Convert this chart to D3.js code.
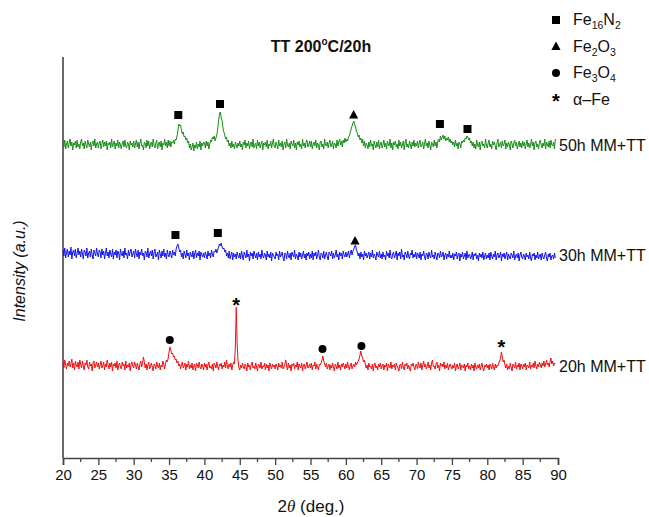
<!DOCTYPE html>
<html>
<head>
<meta charset="utf-8">
<script src="https://cdn.jsdelivr.net/npm/d3@7/dist/d3.min.js"></script>
<style>
  html, body { margin: 0; padding: 0; background: #fff; }
  svg { display: block; font-family: "Liberation Sans", Arial, sans-serif; }
</style>
</head>
<body>
<svg id="chart" width="649" height="517"></svg>
<script>
// 2θ grid: from 20° in 0.125° steps
const thetaStart = 20, thetaStep = 0.125;

// Intensity above each pattern's own baseline (a.u.), one row per 5°
const mm50 = [
  3,-2,5,-4,1,4,-3,2,6,-1,3,-5,2,0,4,-3,5,-2,1,-4,3,6,-1,2,-4,4,0,-3,5,1,-2,3,-5,2,4,-1,6,-3,1,3,
  -3,2,4,-4,1,5,-2,3,-1,4,-5,2,0,3,-3,6,-2,1,4,-4,2,-1,5,-3,3,0,-4,2,4,-2,5,-1,-3,3,1,-5,4,0,2,-2,
  4,-3,1,5,-2,3,-4,2,6,-1,0,-5,3,2,-3,5,-1,4,-4,1,3,-2,6,0,-3,2,5,-4,1,3,-2,4,-5,2,0,6,-1,3,-3,5,
  -1,4,-2,3,2,5,1,6,5,9,14,21,19,20,15,11,13,8,9,5,7,2,4,-3,1,-5,-2,2,-6,0,-3,3,-4,1,-2,4,-5,2,-1,3,
  2,-3,4,-1,3,-4,1,5,3,8,6,9,4,7,10,16,24,31,33,27,24,17,13,10,6,8,3,5,-1,2,-3,4,-2,1,-4,3,0,-3,2,-1,
  4,-2,1,-5,3,0,5,-3,2,-1,4,-4,1,3,-2,6,-3,0,2,-4,5,-1,3,-3,1,4,-5,2,0,3,-2,5,-4,1,-1,4,-3,2,6,-2,
  -3,3,0,-4,5,-1,2,-2,4,-5,1,3,-3,6,0,-2,2,-4,4,1,-1,5,-3,2,-5,3,0,4,-2,1,-4,6,-1,2,-3,3,5,-2,0,4,
  -2,4,-4,1,3,-1,5,-3,2,0,-5,3,4,-2,1,-4,6,0,-1,3,-3,2,5,-2,0,4,-4,2,1,-3,5,-1,3,6,0,4,-2,5,2,7,
  3,6,4,8,9,13,16,19,22,24,20,18,14,12,8,10,5,7,2,6,-1,4,-3,2,0,-4,3,-2,5,-1,1,-5,4,0,-3,3,-2,5,-4,1,
  3,-3,0,5,-2,2,-4,4,1,-1,6,-3,2,-5,3,0,4,-2,1,-4,5,-1,3,-3,0,4,-5,2,6,-2,1,-3,4,0,-4,3,-1,5,-2,2,
  -1,4,-3,2,5,-2,0,3,-4,1,6,-1,2,-3,4,0,-5,3,1,-2,5,-1,3,-3,4,6,3,9,5,8,10,6,9,4,7,5,8,3,6,2,
  4,0,3,-2,5,-1,2,-4,3,1,-3,4,2,5,3,7,6,9,8,5,7,2,4,-1,3,-3,1,-4,5,0,-2,3,-5,2,4,-1,1,-3,6,0,
  -3,2,5,-2,1,-4,4,0,3,-1,-5,2,6,-2,0,3,-3,4,-1,1,5,-4,2,-2,3,0,-5,4,1,-3,2,5,-1,3,-4,0,4,-2,2,-3,
  4,-1,3,-4,1,5,-2,2,-3,0,6,-1,3,-5,2,4,-2,1,-4,3,5,0,-3,2,-1,6,-4,3,1,-2,4,-3,5,0,-1,3,-4,6
];
const mm30 = [
  5,-1,7,-3,3,6,-2,4,0,8,-4,3,5,-1,6,-3,2,7,0,4,-2,6,1,-4,5,3,-1,7,-3,2,4,-2,6,0,-4,5,2,-1,7,1,
  -2,5,3,-3,6,0,4,-4,2,7,-1,3,-3,5,1,-2,6,-4,3,0,5,-3,4,2,-5,6,1,-1,4,-3,7,0,2,-4,5,-1,3,6,-2,1,
  4,-3,6,1,-2,5,-4,3,0,6,-1,2,-5,4,3,-2,7,-3,1,4,-1,5,-4,2,6,-2,0,3,-5,5,1,-3,4,-1,6,-2,2,-4,5,0,
  -2,4,1,-3,5,0,3,-1,6,9,11,7,3,5,-2,2,-4,4,1,-3,5,-1,2,-5,3,0,-2,4,-4,1,5,-3,2,-1,4,-5,3,0,-2,2,
  -3,3,0,-4,4,-1,2,-3,5,1,-2,4,3,6,2,5,8,11,9,12,8,6,7,3,5,-1,2,-3,4,-4,0,3,-5,2,-2,1,-4,3,-1,-3,
  2,-4,4,-1,-5,3,0,-3,5,-2,1,-6,3,-1,2,-4,4,0,-3,2,-5,3,-2,1,-4,5,-1,-3,2,0,-5,4,-2,1,-3,3,-6,2,0,-2,
  -4,3,-1,1,-5,4,-2,0,3,-3,-6,2,1,-4,4,-1,-3,2,-5,3,0,-2,5,-4,1,-1,-5,3,-2,2,-4,0,4,-3,1,-5,2,-1,3,-4,
  1,-3,4,-5,2,-1,3,-4,0,5,-2,-5,2,1,-3,4,-4,0,3,-2,-5,3,1,-1,4,-4,2,-3,0,5,-2,1,-5,3,-1,2,-4,4,0,-2,
  3,-2,1,4,-3,2,5,0,4,6,9,10,5,3,-1,2,-4,3,-2,1,-5,4,-1,2,-3,0,3,-4,2,-2,5,-3,1,-1,-5,3,0,-2,4,-3,
  1,-4,3,-2,0,-5,4,-1,2,-3,5,-2,-4,1,3,-3,0,4,-5,2,-1,3,-4,6,-2,0,-5,3,1,-3,4,-1,-4,2,0,5,-3,1,-2,3,
  -4,2,0,-3,3,-5,1,-1,4,-2,-5,2,1,-4,3,-1,-3,5,-2,0,-4,3,-1,-5,2,1,-3,4,-2,-1,3,-5,0,2,-4,1,-2,4,-3,0,
  -3,2,-5,1,-1,3,-4,0,2,-6,1,-2,3,-4,-1,2,-5,4,-3,0,1,-4,-2,3,-5,1,-1,2,-4,0,-6,2,-2,1,-3,3,-5,-1,2,-4,
  0,-3,2,-5,3,-1,-4,1,-2,4,-5,0,2,-3,-1,3,-6,1,-2,2,-4,0,3,-5,1,-2,-4,2,0,-3,4,-5,-1,1,-3,2,-6,0,3,-2,
  -4,1,-1,-5,2,-2,0,-4,3,-3,-6,1,-1,2,-5,0,-3,3,-4,-1,1,-5,2,-2,-4,0,3,-3,-6,1,-2,2,-5,-1,0,-4,2,-3
];
const mm20 = [
  4,-2,6,1,-3,3,0,5,-1,2,7,-2,3,-4,5,1,-1,4,-3,6,2,-2,5,0,-4,3,1,6,-1,-3,4,0,2,-5,3,5,-2,1,4,-1,
  3,-3,1,5,-2,0,4,-4,2,-1,6,1,-3,3,-1,4,-5,2,0,3,-2,5,-4,1,3,-1,-3,4,0,2,-4,5,-2,1,-1,3,-5,2,4,0,
  -2,4,1,-3,3,0,-4,2,5,-1,3,9,4,-2,2,-4,1,4,-3,0,3,-1,-5,2,1,-3,4,0,-2,3,-4,1,-1,5,2,-3,3,6,4,8,
  14,19,16,12,13,9,10,6,7,3,5,0,2,-3,1,4,-2,0,3,-4,2,-1,5,-3,1,-2,3,-4,0,2,-5,3,1,-2,4,-1,-3,2,0,-4,
  3,-1,2,-4,1,4,-2,0,-3,2,-5,3,1,-2,4,-1,-4,2,0,3,-3,1,-1,4,-2,6,0,-3,2,-1,3,-4,1,4,2,20,59,22,6,-2,
  -4,1,-2,3,-1,-3,2,0,-5,3,-1,1,-4,2,4,-2,0,-3,3,-1,-5,2,1,-2,4,-3,0,-1,3,-4,2,-2,1,-5,3,0,-3,2,-1,1,
  -3,2,0,-4,3,-1,1,-2,4,-3,-1,2,6,0,-4,3,-2,1,-5,2,0,3,-3,1,-1,4,-4,2,0,-2,3,-5,1,2,-3,0,4,-2,-1,2,
  -2,3,-4,1,0,4,-3,2,-1,-4,2,1,3,6,10,5,2,-1,3,-3,0,2,-4,1,-2,3,-1,-5,2,0,-3,4,-2,1,-4,2,-1,3,0,-3,
  2,-2,4,-1,-4,1,3,-3,0,2,-1,4,1,3,5,7,11,15,10,8,4,6,2,-2,1,-4,3,-1,0,-3,2,-5,1,3,-2,0,-4,2,-1,3,
  -3,0,2,-4,1,-1,3,-5,2,0,-2,4,-3,1,-1,2,-4,3,0,-2,-5,1,2,-3,4,-1,-4,2,0,3,-3,1,-2,-5,2,0,3,-1,-4,1,
  2,-3,4,0,-2,3,-4,1,5,-1,2,-3,0,4,-2,1,-4,3,6,-1,0,-3,2,4,-2,1,-5,3,0,2,-1,4,-3,1,-2,3,-4,0,2,-1,
  -3,1,-2,3,-5,0,2,-3,-1,3,-4,1,0,-2,2,-5,1,-1,3,-3,0,-4,2,-2,1,-5,3,-1,-3,1,-2,2,-4,0,3,-2,-5,1,-1,2,
  -2,1,-4,2,0,-3,3,-1,-4,2,-2,1,0,3,5,8,14,9,4,6,1,-2,2,-4,0,-3,3,-1,-5,2,0,-2,4,-3,1,-1,3,-4,2,0,
  -3,2,-1,3,-4,1,0,-2,4,-3,1,-1,3,-2,5,0,-3,2,-1,4,1,-2,3,0,5,-1,2,6,1,3,-1,4,8,2,5,0,3,2
];

// Stacking: pattern names, baseline offsets and colours
const seriesNames = ["50h MM+TT", "30h MM+TT", "20h MM+TT"];
const seriesData = [mm50, mm30, mm20];
const seriesOffset = [313, 203, 92];
const seriesColor = ["#1a8c1a", "#1414f0", "#f01010"];

// Phase markers: pattern index, 2θ position, height above baseline, phase
const markerSeries = [0, 0, 0, 0, 0, 1, 1, 1, 2, 2, 2, 2, 2];
const markerTheta  = [36.3, 42.2, 61.1, 73.3, 77.2, 35.9, 41.9, 61.3, 35.1, 44.5, 56.7, 62.2, 82.0];
const markerHeight = [30, 41, 30, 21, 16, 20, 22, 14, 26, 63, 17, 20, 21];
const markerPhase  = ["sq", "sq", "tri", "sq", "sq", "sq", "sq", "tri", "dot", "star", "dot", "dot", "star"];

// Legend entries
const legendPhase = ["sq", "tri", "dot", "star"];
const legendLabel = [["Fe", "16", "N", "2"], ["Fe", "2", "O", "3"], ["Fe", "3", "O", "4"], ["α\u2013Fe"]];

const xTicks = d3.range(20, 91, 5);
const xMinor = d3.range(22.5, 90, 5);

const svg = d3.select("#chart");
const x = d3.scaleLinear().domain([20, 90]).range([63, 558]);
const y = d3.scaleLinear().domain([0, 400]).range([458, 58]);

// Y axis: plain line without ticks
svg.append("line")
  .attr("x1", 63).attr("x2", 63).attr("y1", 57).attr("y2", 458)
  .attr("stroke", "#444").attr("stroke-width", 1.6);

// X axis
const xAxis = svg.append("g").attr("transform", "translate(0,458)")
  .call(d3.axisBottom(x).tickValues(xTicks).tickSize(7).tickPadding(4).tickFormat(d3.format("d")));
xAxis.select(".domain").attr("stroke", "#444").attr("stroke-width", 1.6);
xAxis.selectAll(".tick line").attr("stroke", "#444").attr("stroke-width", 1.3);
xAxis.selectAll(".tick text").attr("font-size", 15).attr("fill", "#111")
  .attr("font-family", "'Liberation Sans', Arial, sans-serif");
svg.append("g").selectAll("line").data(xMinor).join("line")
  .attr("x1", d => x(d)).attr("x2", d => x(d)).attr("y1", 458).attr("y2", 462)
  .attr("stroke", "#444").attr("stroke-width", 1.3);

// Patterns
const line = d3.line()
  .x((d, i) => x(thetaStart + i * thetaStep));
seriesData.forEach((vals, k) => {
  svg.append("path")
    .attr("d", line.y(v => y(seriesOffset[k] + v))(vals))
    .attr("fill", "none")
    .attr("stroke", seriesColor[k])
    .attr("stroke-width", 1)
    .attr("stroke-linejoin", "round");
  svg.append("text")
    .attr("x", 559).attr("y", y(seriesOffset[k]) + 5.5)
    .attr("font-size", 16).attr("fill", "#111")
    .text(seriesNames[k]);
});

// Marker glyphs
function drawMarker(g, phase, cx, cy) {
  if (phase === "sq") {
    g.append("rect").attr("x", cx - 4).attr("y", cy - 4).attr("width", 8).attr("height", 8).attr("fill", "#000");
  } else if (phase === "tri") {
    g.append("path").attr("d", `M${cx},${cy - 5}L${cx + 4.6},${cy + 3.5}L${cx - 4.6},${cy + 3.5}Z`).attr("fill", "#000");
  } else if (phase === "dot") {
    g.append("circle").attr("cx", cx).attr("cy", cy).attr("r", 4).attr("fill", "#000");
  } else {
    g.append("text").attr("x", cx).attr("y", cy + 8.5).attr("text-anchor", "middle")
      .attr("font-size", 20).attr("font-weight", "bold").attr("fill", "#000").text("*");
  }
}
const markers = svg.append("g");
markerTheta.forEach((t, i) => {
  drawMarker(markers, markerPhase[i], x(t), y(seriesOffset[markerSeries[i]] + markerHeight[i]));
});

// Legend
const legend = svg.append("g");
legendPhase.forEach((p, i) => {
  const ly = 20 + i * 26.5;
  drawMarker(legend, p, 556, ly);
  const t = legend.append("text").attr("x", 573).attr("y", ly + 5).attr("font-size", 16).attr("fill", "#111");
  const parts = legendLabel[i];
  if (parts.length === 1) {
    t.text(parts[0]);
  } else {
    t.append("tspan").text(parts[0]);
    t.append("tspan").attr("font-size", 10.5).attr("dy", 4).text(parts[1]);
    t.append("tspan").attr("dy", -4).text(parts[2]);
    t.append("tspan").attr("font-size", 10.5).attr("dy", 4).text(parts[3]);
  }
});

// Title
const title = svg.append("text").attr("x", 321).attr("y", 52).attr("text-anchor", "middle")
  .attr("font-size", 16).attr("font-weight", "bold").attr("fill", "#111");
title.append("tspan").text("TT 200");
title.append("tspan").attr("font-size", 10).attr("dy", -7).text("o");
title.append("tspan").attr("dy", 7).text("C/20h");

// Axis titles
const xt = svg.append("text").attr("x", 311).attr("y", 512).attr("text-anchor", "middle")
  .attr("font-size", 17).attr("fill", "#111");
xt.append("tspan").text("2");
xt.append("tspan").attr("font-style", "italic").attr("font-family", "'Liberation Serif', serif").text("θ");
xt.append("tspan").text(" (deg.)");

svg.append("text")
  .attr("transform", "translate(25,271) rotate(-90)")
  .attr("text-anchor", "middle").attr("font-size", 16).attr("font-style", "italic").attr("fill", "#111")
  .text("Intensity (a.u.)");
</script>
</body>
</html>
